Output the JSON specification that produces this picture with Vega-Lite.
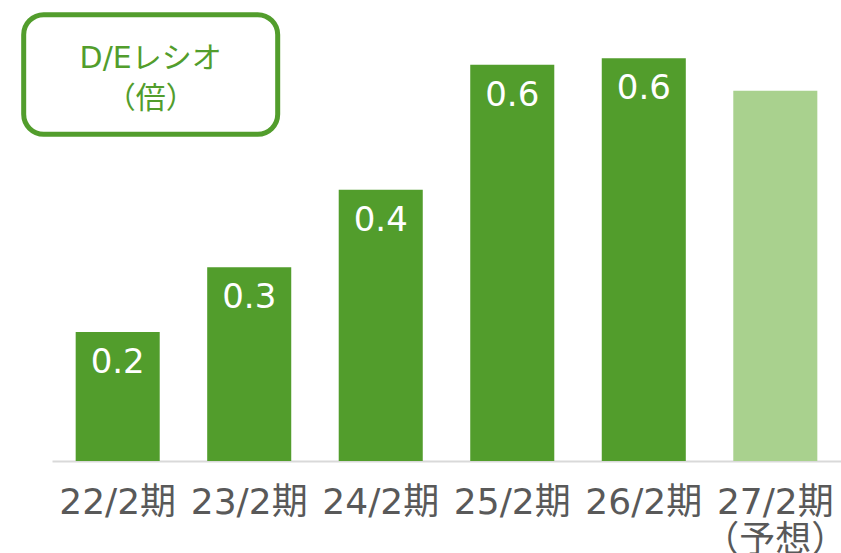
{
  "$schema": "https://vega.github.io/schema/vega-lite/v6.json",
  "width": 789,
  "height": 461,
  "autosize": {"type": "none"},
  "padding": {"left": 52, "top": 0, "right": 0, "bottom": 92},
  "background": "white",
  "config": {"view": {"stroke": null}, "font": "DejaVu Sans, Noto Sans CJK JP"},
  "data": {
    "values": [
      {"period": "22/2期", "value": 0.193, "kind": "実績"},
      {"period": "23/2期", "value": 0.29, "kind": "実績"},
      {"period": "24/2期", "value": 0.406, "kind": "実績"},
      {"period": "25/2期", "value": 0.593, "kind": "実績"},
      {"period": "26/2期", "value": 0.603, "kind": "実績"},
      {"period": "27/2期", "value": 0.554, "kind": "予想"}
    ]
  },
  "layer": [
    {
      "mark": {"type": "bar"},
      "encoding": {
        "x": {
          "field": "period",
          "type": "nominal",
          "sort": null,
          "title": null,
          "scale": {"paddingInner": 0.361, "paddingOuter": 0.18},
          "axis": {
            "domainColor": "#d9d9d9",
            "domainWidth": 2,
            "ticks": false,
            "labelFontSize": 36,
            "labelColor": "#595959",
            "labelPadding": 24,
            "labelAngle": 0,
            "labelBaseline": "top",
            "labelLineHeight": 38,
            "labelOverlap": false,
            "labelFlush": false,
            "labelExpr": "datum.value == '27/2期' ? ['27/2期', '（予想）'] : datum.value"
          }
        },
        "y": {
          "field": "value",
          "type": "quantitative",
          "scale": {"domain": [0, 0.69], "nice": false, "zero": true},
          "axis": null
        },
        "color": {
          "field": "kind",
          "type": "nominal",
          "scale": {"domain": ["実績", "予想"], "range": ["#529d2c", "#a9d18e"]},
          "legend": null
        }
      }
    },
    {
      "transform": [{"filter": "datum.kind == '実績'"}],
      "mark": {"type": "text", "color": "white", "fontSize": 34, "baseline": "middle", "dy": 31},
      "encoding": {
        "x": {"field": "period", "type": "nominal", "sort": null},
        "y": {"field": "value", "type": "quantitative"},
        "text": {"field": "value", "type": "quantitative", "format": ".1f"}
      }
    },
    {
      "data": {"values": [{"t": "D/Eレシオ\n（倍）"}]},
      "mark": {"type": "bar", "width": 254, "xOffset": 33, "fill": "white", "stroke": "#529d2c", "strokeWidth": 5, "cornerRadius": 20},
      "encoding": {
        "x": {"datum": "22/2期", "type": "nominal"},
        "y": {"datum": 0.668, "type": "quantitative"},
        "y2": {"datum": 0.489}
      }
    },
    {
      "data": {"values": [{"t": "D/Eレシオ\n（倍）"}]},
      "mark": {"type": "text", "xOffset": 33, "fontSize": 30, "color": "#529d2c", "lineBreak": "\n", "lineHeight": 40, "baseline": "middle"},
      "encoding": {
        "x": {"datum": "22/2期", "type": "nominal"},
        "y": {"datum": 0.602, "type": "quantitative"},
        "text": {"field": "t"}
      }
    }
  ]
}
